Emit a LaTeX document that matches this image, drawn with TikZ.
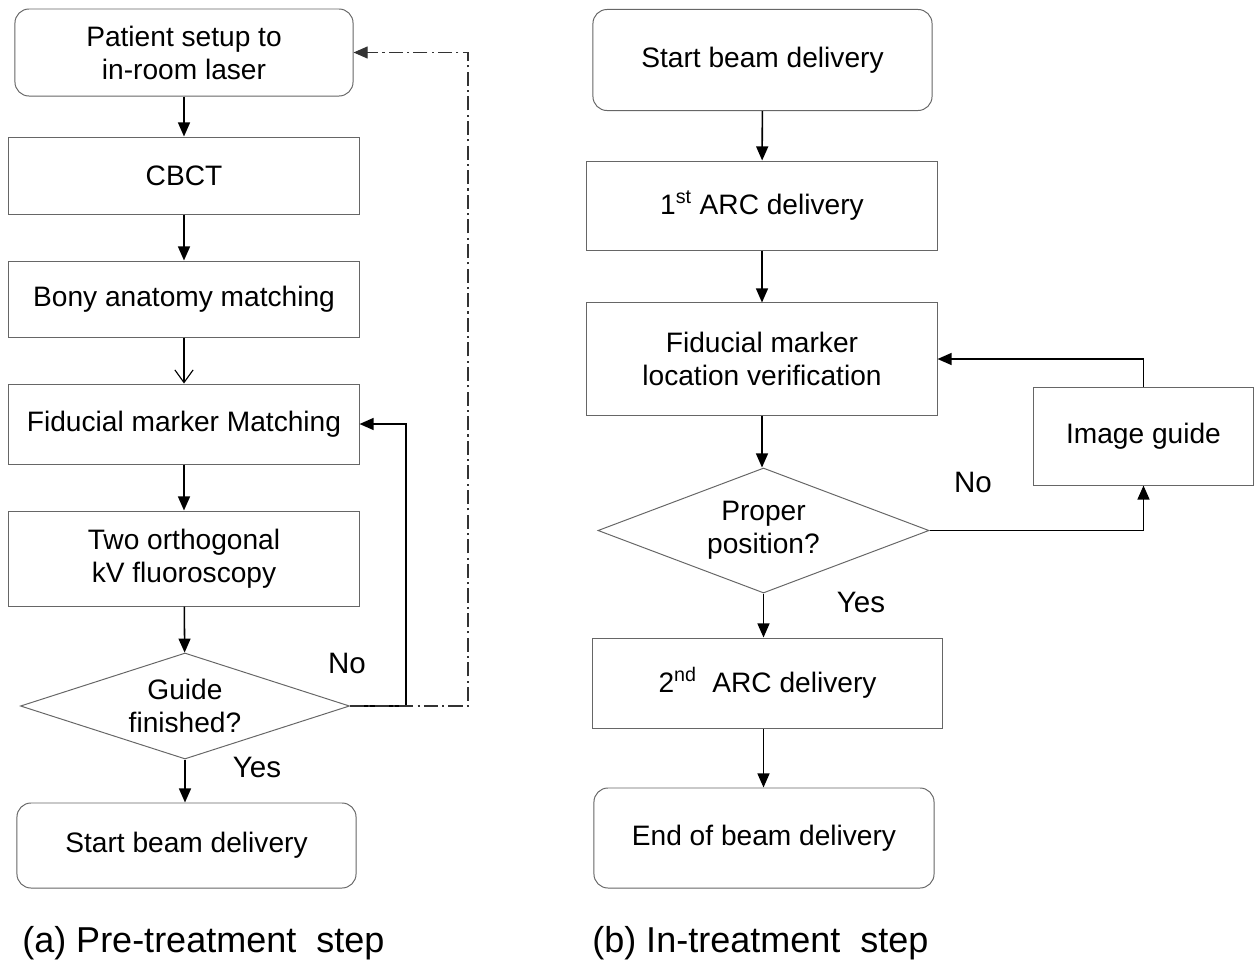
\documentclass[tikz,border=0pt]{standalone}
\usepackage{fontspec}
\setmainfont{Liberation Sans}
\usetikzlibrary{shapes.geometric, arrows.meta, positioning}

\tikzset{
	box/.style={draw=black!60, line width=0.7pt, minimum width=8.75cm, minimum height=1.9cm,
		inner sep=0pt, align=center, font=\fontsize{20}{23.5}\selectfont},
	rbox/.style={box, rounded corners=10pt},
	decision/.style={box, shape=diamond, shape aspect=3},
	arr/.style={-{Triangle[length=10pt,width=8.5pt]}, line width=1.1pt},
	lbl/.style={font=\fontsize{21}{24}\selectfont, inner sep=0pt, anchor=base},
	caption/.style={font=\fontsize{25.6}{30}\selectfont, inner sep=0pt, anchor=base west},
}

\begin{document}
\begin{tikzpicture}[x=0.025cm, y=-0.025cm]

		\useasboundingbox (0,0) rectangle (1259,962);

		% (a) pre-treatment
		\node[rbox, minimum width=8.45cm, minimum height=2.175cm] (patient) at (184,52.5) {Patient setup to\\in-room laser};
		\node[box, minimum height=1.925cm] (cbct) at (184,175.5) {CBCT};
		\node[box] (bony) at (184,299) {Bony anatomy matching};
		\node[box, minimum height=2cm] (fidm) at (184,424) {Fiducial marker Matching};
		\node[box, minimum height=2.375cm] (twoorth) at (184,558.5) {Two orthogonal\\kV fluoroscopy};
		\node[decision, minimum width=8.225cm, minimum height=2.65cm] (guide) at (185,706) {Guide\\finished?};
		\node[rbox, minimum width=8.475cm, minimum height=2.125cm] (startL) at (186.5,845.5) {Start beam delivery};
		\node[lbl] (noL) at (347,673) {No};
		\node[lbl] (yesL) at (257,777) {Yes};
		\node[caption] (capA) at (22,952) {(a) Pre-treatment\ \ step};

		\draw[arr] (patient) -- (cbct);
		\draw[arr] (cbct) -- (bony);
		\draw[-{Straight Barb[length=9pt,width=13pt]}, line width=0.8pt] (bony) -- (fidm);
		\draw[arr] (fidm) -- (twoorth);
		\draw[arr] (twoorth) -- (guide);
		\draw[arr] (guide.south) -- (guide.south |- startL.north);
		\draw[arr] (guide.east) -- ++(56,0) |- (fidm.east);
		\draw[-{Triangle[length=10pt,width=8.5pt]}, line width=0.8pt, black!80,
			dash pattern=on 10pt off 3pt on 1.5pt off 3pt] (guide.east) -- ++(118,0) |- (patient.east);

		% (b) in-treatment
		\node[rbox, minimum width=8.475cm, minimum height=2.525cm] (startR) at (762.5,60) {Start beam delivery};
		\node[box, minimum height=2.225cm] (arc1) at (762,205.5) {1\textsuperscript{st} ARC delivery};
		\node[box, minimum height=2.8cm] (verif) at (762,359) {Fiducial marker\\location verification};
		\node[decision, minimum width=8.275cm, minimum height=3.125cm] (proper) at (763.5,530.5) {Proper\\position?};
		\node[box, minimum width=8.725cm, minimum height=2.25cm] (arc2) at (767.5,683) {2\textsuperscript{nd}\ \ ARC delivery};
		\node[rbox, minimum width=8.5cm, minimum height=2.5cm] (endR) at (764,838) {End of beam delivery};
		\node[box, minimum width=5.475cm, minimum height=2.45cm] (imgguide) at (1143.5,436) {Image guide};
		\node[lbl] (noR) at (973,492) {No};
		\node[lbl] (yesR) at (861,612) {Yes};
		\node[caption] (capB) at (592,952) {(b) In-treatment\ \ step};

		\draw[arr] (startR) -- (arc1);
		\draw[arr] (arc1) -- (verif);
		\draw[arr] (verif.south) -- (verif.south |- proper.north);
		\draw[arr] (proper.south) -- (proper.south |- arc2.north);
		\draw[arr] (proper.south |- arc2.south) -- (proper.south |- endR.north);
		\draw[arr] (proper.east) -| (imgguide.south);
		\draw[arr] (imgguide.north) |- (verif.east);

	\end{tikzpicture}
\end{document}
